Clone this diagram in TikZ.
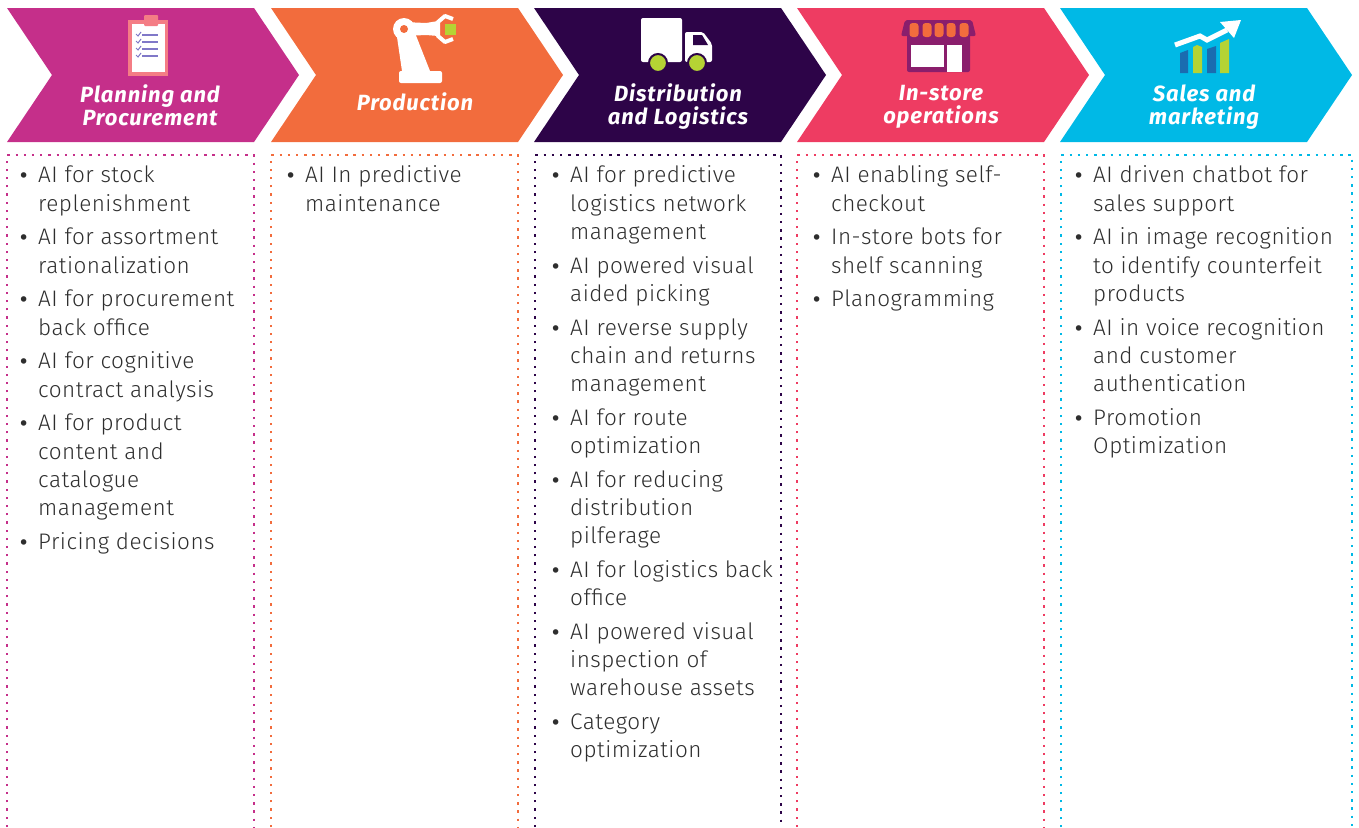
\documentclass[tikz,border=0pt]{standalone}
\usepackage{fontspec}
\setmainfont{Fira Sans}[UprightFont=* Light, BoldFont=* Bold, ItalicFont=* Light Italic, BoldItalicFont=* Bold Italic, LetterSpace=2.2]
\newfontfamily\headfont{Fira Sans}[LetterSpace=4]
\newfontfamily\dotfont{DejaVu Sans}
\usepackage{array}

\definecolor{planmag}{HTML}{C52F8A}
\definecolor{prodorange}{HTML}{F26C3D}
\definecolor{distpurple}{HTML}{2D0448}
\definecolor{storepink}{HTML}{EE3C62}
\definecolor{salescyan}{HTML}{00B9E6}
\definecolor{clipsalmon}{HTML}{F47D85}
\definecolor{checkblue}{HTML}{8078C8}
\definecolor{limegreen}{HTML}{B5D334}
\definecolor{shopplum}{HTML}{8A1E6C}
\definecolor{barblue}{HTML}{1A6CB0}
\definecolor{textgray}{HTML}{2E2E2E}

\newcommand\blt{{\dotfont\fontsize{19}{19}\selectfont\textbullet}}

\begin{document}
\begin{tikzpicture}[x=1pt,y=-1pt,
  listbox/.style={draw=#1, line width=2.3pt, dash pattern=on 2.3pt off 5.9pt},
  title/.style={text=white, inner sep=0pt, align=center,
    font=\headfont\fontsize{22}{23}\selectfont\bfseries\itshape},
  items/.style={anchor=north west, inner sep=0pt, text=textgray,
    font=\fontsize{22.5}{28.2}\selectfont}]
\useasboundingbox (0,0) rectangle (1359,827);

% chevrons
\foreach \l/\c in {7/planmag, 271/prodorange, 534/distpurple, 797/storepink, 1060/salescyan}
  \fill[\c] (\l,8) -- ++(247,0) -- ++(45,67) -- ++(-45,67) -- ++(-247,0) -- ++(45,-67) -- cycle;

% dotted boxes
\foreach \l/\r/\c in {7/254/planmag, 271/518/prodorange, 535/781/distpurple, 797/1044/storepink, 1061/1352/salescyan}
  \draw[listbox=\c] (\l,827) -- (\l,155) -- (\r,155) -- (\r,827);

% clipboard
\fill[clipsalmon] (128,20) rectangle (168,76);
\fill[white] (132,24) rectangle (165,72);
\fill[clipsalmon, rounded corners=1pt] (144,15) rectangle (158,26);
\foreach \y in {35,42,49,56} {
  \draw[checkblue, line width=1pt] (136,\y-1) -- (138,\y+1) -- (141,\y-3);
  \draw[checkblue, line width=1.2pt] (142,\y) -- (158,\y);
}

% robot arm
\fill[white, rounded corners=2pt] (399,71) rectangle (442,83);
\fill[white] (402,71) -- (430,71) -- (415,33) -- (397,37) -- cycle;
\fill[white] (404,22) -- (426,23) -- (438,21) -- (438,36) -- (426,35) -- (404,36) -- cycle;
\draw[white, line width=4pt, line join=round] (453,19) -- (445,16) -- (438,22) -- (438,36) -- (445,42) -- (453,39);
\fill[white] (404,29) circle (11);
\fill[prodorange] (404,29) circle (4);
\fill[limegreen] (445,24) rectangle (456,35);

% truck
\fill[white, rounded corners=2pt] (641,18) rectangle (682,62);
\fill[white, rounded corners=2pt] (685,32) -- (703,32) -- (712,44) -- (712,62) -- (685,62) -- cycle;
\fill[distpurple] (693,35) -- (702,35) -- (708,45) -- (693,45) -- cycle;
\foreach \x in {658,697}
  \filldraw[fill=limegreen, draw=distpurple, line width=2pt] (\x,63) circle (9);

% shop
\fill[shopplum, rounded corners=2pt] (907,34) rectangle (970,72);
\fill[white] (911,45) rectangle (944,67);
\fill[white] (947,45) rectangle (962,72);
\fill[shopplum, rounded corners=2pt] (905,20) -- (972,20) -- (976,36) -- (901,36) -- cycle;
\foreach \x in {914,927,939,951,964}
  \fill[prodorange, rounded corners=3pt] (\x-4.5,23) rectangle (\x+4.5,37);

% chart
\fill[barblue] (1180,53) -- (1188,50) -- (1188,73) -- (1180,73) -- cycle;
\fill[limegreen] (1193,47) -- (1197,45) -- (1202,47) -- (1202,73) -- (1193,73) -- cycle;
\fill[barblue] (1207,49) -- (1216,46) -- (1216,73) -- (1207,73) -- cycle;
\fill[limegreen] (1220,43) -- (1229,39) -- (1229,73) -- (1220,73) -- cycle;
\draw[white, line width=5pt] (1175,45) -- (1200,36) -- (1207,40) -- (1227,30);
\fill[white] (1241,20) -- (1220,22) -- (1234,38) -- cycle;

% titles
\node (plantitle) [title] at (150,105) {Planning and\\Procurement};
\node (prodtitle) [title, anchor=base] at (415,110) {Production};
\node (disttitle) [title] at (678,107) {Distribution\\and Logistics};
\node (storetitle) [title] at (941,107) {In-store\\operations};
\node (salestitle) [title] at (1204,107) {Sales and\\marketing};

% bullet lists
\node (planlist) [items] at (18,163) {\begin{tabular}{@{}p{20pt}@{}l@{}}
\blt & AI for stock\\ & replenishment\\[5.6pt]
\blt & AI for assortment\\ & rationalization\\[5.6pt]
\blt & AI for procurement\\ & back office\\[5.6pt]
\blt & AI for cognitive\\ & contract analysis\\[5.6pt]
\blt & AI for product\\ & content and\\ & catalogue\\ & management\\[5.6pt]
\blt & Pricing decisions
\end{tabular}};
\node (prodlist) [items] at (285,163) {\begin{tabular}{@{}p{20pt}@{}l@{}}
\blt & AI In predictive\\ & maintenance
\end{tabular}};
\node (distlist) [items] at (550,163) {\begin{tabular}{@{}p{20pt}@{}l@{}}
\blt & AI for predictive\\ & logistics network\\ & management\\[5.6pt]
\blt & AI powered visual\\ & aided picking\\[5.6pt]
\blt & AI reverse supply\\ & chain and returns\\ & management\\[5.6pt]
\blt & AI for route\\ & optimization\\[5.6pt]
\blt & AI for reducing\\ & distribution\\ & pilferage\\[5.6pt]
\blt & AI for logistics back\\ & office\\[5.6pt]
\blt & AI powered visual\\ & inspection of\\ & warehouse assets\\[5.6pt]
\blt & Category\\ & optimization
\end{tabular}};
\node (storelist) [items] at (811,163) {\begin{tabular}{@{}p{20pt}@{}l@{}}
\blt & AI enabling self-\\ & checkout\\[5.6pt]
\blt & In-store bots for\\ & shelf scanning\\[5.6pt]
\blt & Planogramming
\end{tabular}};
\node (saleslist) [items] at (1073,163) {\begin{tabular}{@{}p{20pt}@{}l@{}}
\blt & AI driven chatbot for\\ & sales support\\[5.6pt]
\blt & AI in image recognition\\ & to identify counterfeit\\ & products\\[5.6pt]
\blt & AI in voice recognition\\ & and customer\\ & authentication\\[5.6pt]
\blt & Promotion\\ & Optimization
\end{tabular}};
\end{tikzpicture}
\end{document}
